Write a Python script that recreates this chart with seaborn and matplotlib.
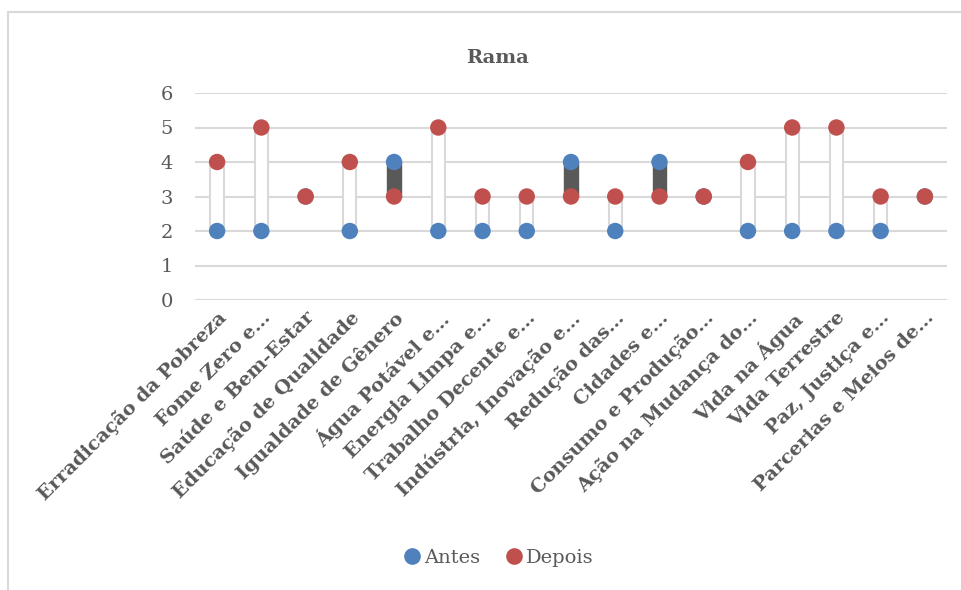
import numpy as np
import pandas as pd
import matplotlib
matplotlib.use('Agg')
import matplotlib.pyplot as plt
from matplotlib.lines import Line2D
import seaborn as sns

categorias = [
    'Erradicação da Pobreza', 'Fome Zero e…', 'Saúde e Bem-Estar',
    'Educação de Qualidade', 'Igualdade de Gênero', 'Água Potável e…',
    'Energia Limpa e…', 'Trabalho Decente e…', 'Indústria, Inovação e…',
    'Redução das…', 'Cidades e…', 'Consumo e Produção…',
    'Ação na Mudança do…', 'Vida na Água', 'Vida Terrestre',
    'Paz, Justiça e…', 'Parcerias e Meios de…',
]
antes = [2, 2, 3, 2, 4, 2, 2, 2, 4, 2, 4, 3, 2, 2, 2, 2, 3]
depois = [4, 5, 3, 4, 3, 5, 3, 3, 3, 3, 3, 3, 4, 5, 5, 3, 3]
y_ticks = [0, 1, 2, 3, 4, 5, 6]

AZUL = '#4f81bd'
VERMELHO = '#c0504d'
CINZA_TXT = '#595959'
CINZA_GRADE = '#d9d9d9'

sns.set_style('white')
plt.rcParams['font.family'] = ['DejaVu Serif', 'DejaVu Sans']

df = pd.DataFrame({'cat': categorias, 'Antes': antes, 'Depois': depois})
df['x'] = np.arange(len(df))
longo = df.melt(id_vars=['cat', 'x'], value_vars=['Antes', 'Depois'],
                var_name='serie', value_name='valor')

fig = plt.figure(figsize=(9.62, 5.9), dpi=100)
ax = fig.add_axes([195 / 962, 1 - 300 / 590, (947 - 195) / 962, (300 - 93) / 590])

# barras de alta/baixa (estilo Excel)
diff = df['Depois'] - df['Antes']
base = np.minimum(df['Antes'], df['Depois'])
sobe = diff > 0
desce = diff < 0
ax.bar(df['x'][sobe], diff[sobe].abs(), bottom=base[sobe], width=0.3,
       color='white', edgecolor=CINZA_GRADE, linewidth=1.5, zorder=2)
ax.bar(df['x'][desce], diff[desce].abs(), bottom=base[desce], width=0.3,
       color=CINZA_TXT, edgecolor=CINZA_TXT, linewidth=1.0, zorder=2)

sns.scatterplot(data=longo, x='x', y='valor', hue='serie',
                palette={'Antes': AZUL, 'Depois': VERMELHO},
                s=140, linewidth=0, ax=ax, legend=False, zorder=3)

ax.set_xlim(-0.5, len(df) - 0.5)
ax.set_ylim(0, 6)
ax.set_yticks(y_ticks)
ax.set_yticklabels([str(v) for v in y_ticks], fontsize=14, color=CINZA_TXT)
ax.set_xticks(df['x'])
ax.set_xticklabels(categorias, rotation=45, ha='right', rotation_mode='anchor',
                   fontsize=14, fontweight='bold', color=CINZA_TXT)
ax.tick_params(axis='y', length=0, pad=16)
ax.tick_params(axis='x', length=0, pad=6)
ax.set_xlabel('')
ax.set_ylabel('')
for y in y_ticks:
    ax.axhline(y, color=CINZA_GRADE, linewidth=1.5, zorder=1)
for s in ax.spines.values():
    s.set_visible(False)

fig.text(498 / 962, 1 - 58 / 590, 'Rama', ha='center', va='center',
         fontsize=14, fontweight='bold', color=CINZA_TXT)

handles = [
    Line2D([], [], marker='o', linestyle='', markersize=12,
           markerfacecolor=AZUL, markeredgewidth=0, label='Antes'),
    Line2D([], [], marker='o', linestyle='', markersize=12,
           markerfacecolor=VERMELHO, markeredgewidth=0, label='Depois'),
]
leg = fig.legend(handles=handles, loc='center', bbox_to_anchor=(498 / 962, 1 - 558 / 590),
                 ncol=2, frameon=False, fontsize=14, handletextpad=0.15,
                 columnspacing=1.2, handlelength=1.0)
for t in leg.get_texts():
    t.set_color(CINZA_TXT)

# moldura do gráfico
fig.add_artist(Line2D([8 / 962, 1], [1 - 12 / 590, 1 - 12 / 590],
                      transform=fig.transFigure, color=CINZA_GRADE, linewidth=1.5))
fig.add_artist(Line2D([8 / 962, 8 / 962], [0, 1 - 12 / 590],
                      transform=fig.transFigure, color=CINZA_GRADE, linewidth=1.5))

fig.savefig('out.png', dpi=100)
